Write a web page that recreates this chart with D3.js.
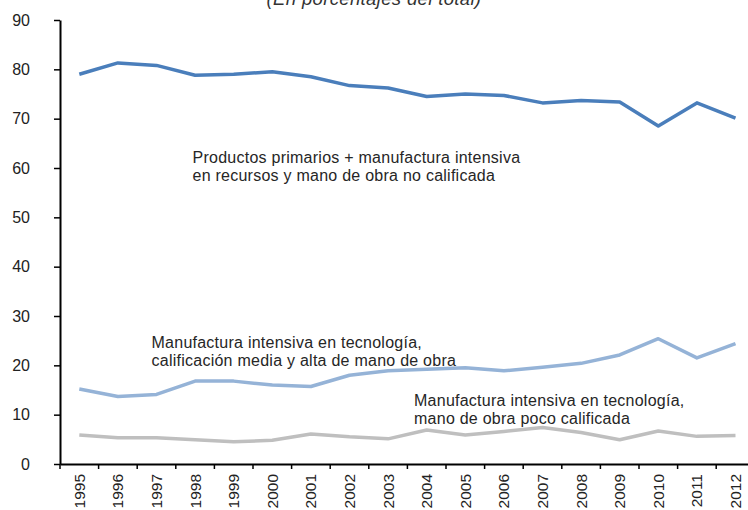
<!DOCTYPE html>
<html><head><meta charset="utf-8">
<script src="https://cdn.jsdelivr.net/npm/d3@7/dist/d3.min.js"></script>
<style>body{margin:0;background:#fff}svg{display:block}text{font-family:"Liberation Sans",Arial,sans-serif}</style>
</head><body>
<svg id="c" width="748" height="510"></svg>
<script>
const years = ["1995","1996","1997","1998","1999","2000","2001","2002","2003","2004","2005","2006","2007","2008","2009","2010","2011","2012"];
const primarios = [79.0,81.3,80.8,78.8,79.0,79.5,78.5,76.7,76.2,74.5,75.0,74.7,73.2,73.7,73.4,68.5,73.2,70.1];
const tecMediaAlta = [15.2,13.7,14.1,16.8,16.8,16.0,15.7,18.0,18.9,19.2,19.5,18.9,19.6,20.4,22.1,25.4,21.5,24.4];
const tecPoco = [5.9,5.3,5.3,4.9,4.5,4.8,6.1,5.5,5.1,6.9,5.9,6.6,7.4,6.4,4.9,6.7,5.6,5.8];
const yTicks = [0,10,20,30,40,50,60,70,80,90];
const title = "(En porcentajes del total)";

const svg = d3.select("#c");
const x0 = 60, bw = 38.6;
const x = d3.scaleBand().domain(years).range([x0, x0 + bw*years.length]).paddingInner(0).paddingOuter(0);
const y = d3.scaleLinear().domain([0,90]).range([464,20]);

svg.append("text").attr("x",374).attr("y",5).attr("text-anchor","middle")
  .attr("font-size",18.5).attr("letter-spacing",0.35).attr("font-style","italic").attr("fill","#333").text(title);

// y axis
const ya = svg.append("g").attr("transform",`translate(${x0},0)`)
  .call(d3.axisLeft(y).tickValues(yTicks).tickSize(6).tickPadding(24).tickSizeOuter(0));
ya.select(".domain").attr("stroke","#000").attr("stroke-width",2);
ya.selectAll(".tick line").attr("stroke","#000").attr("stroke-width",1.5);
ya.selectAll(".tick text").attr("font-size",16).attr("fill","#222").attr("font-family","Liberation Sans, Arial, sans-serif");

// x axis
const xa = svg.append("g").attr("transform",`translate(0,464)`)
  .call(d3.axisBottom(x).tickSize(0).tickSizeOuter(0));
xa.select(".domain").attr("stroke","#000").attr("stroke-width",2);
xa.selectAll(".tick line").remove();
xa.selectAll(".tick text").attr("font-size",15.5).attr("fill","#222").attr("font-family","Liberation Sans, Arial, sans-serif")
  .attr("transform","rotate(-90)").attr("text-anchor","end").attr("x",-10).attr("y",0).attr("dy","0.35em");
// boundary ticks
svg.append("g").selectAll("line").data(years).join("line")
  .attr("x1",d=>x(d)).attr("x2",d=>x(d)).attr("y1",464).attr("y2",469)
  .attr("stroke","#000").attr("stroke-width",1.5);

const line = d3.line().x((d,i)=>x(years[i])+x.bandwidth()/2).y(d=>y(d));
const series = [[tecPoco,"#bfbfbf"],[tecMediaAlta,"#95b3d7"],[primarios,"#4a7ebb"]];
series.forEach(([v,c])=>{
  svg.append("path").datum(v).attr("d",line).attr("fill","none").attr("stroke",c)
    .attr("stroke-width",3.5).attr("stroke-linejoin","round");
});

function label(lines, lx, ly, lh){
  const t = svg.append("text").attr("font-size",16).attr("letter-spacing",0.25).attr("fill","#262626");
  lines.forEach((s,i)=>t.append("tspan").attr("x",lx).attr("y",ly+i*lh).text(s));
}
label(["Productos primarios + manufactura intensiva","en recursos y mano de obra no calificada"],192.5,163,17.5);
label(["Manufactura intensiva en tecnología,","calificación media y alta de mano de obra"],151.5,348,17.5);
label(["Manufactura intensiva en tecnología,","mano de obra poco calificada"],414,406,17.5);
</script>
</body></html>
